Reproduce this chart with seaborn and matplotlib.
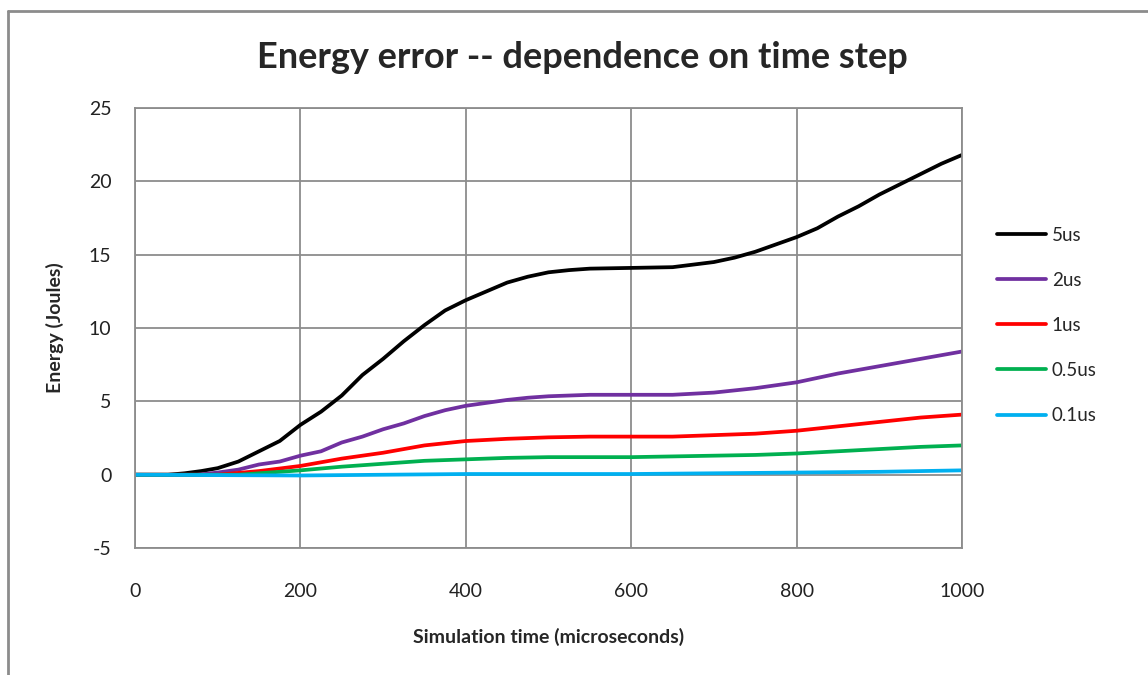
import pandas as pd
import numpy as np
import matplotlib
matplotlib.use('Agg')
import matplotlib.pyplot as plt
import seaborn as sns
from matplotlib.lines import Line2D

# data
t_5us = [0, 40, 60, 80, 100, 125, 150, 175, 200, 225, 250, 275, 300, 325, 350, 375, 400,
         425, 450, 475, 500, 525, 550, 600, 650, 700, 725, 750, 775, 800, 825, 850, 875,
         900, 925, 950, 975, 1000]
e_5us = [0, 0, 0.1, 0.25, 0.45, 0.9, 1.6, 2.3, 3.4, 4.3, 5.4, 6.8, 7.9, 9.1, 10.2, 11.2,
         11.9, 12.5, 13.1, 13.5, 13.8, 13.95, 14.05, 14.1, 14.15, 14.5, 14.8, 15.2, 15.7,
         16.2, 16.8, 17.6, 18.3, 19.1, 19.8, 20.5, 21.2, 21.8]

t_2us = [0, 75, 100, 125, 150, 175, 200, 225, 250, 275, 300, 325, 350, 375, 400, 425,
         450, 475, 500, 550, 600, 650, 700, 750, 800, 850, 900, 950, 1000]
e_2us = [0, 0, 0.15, 0.35, 0.7, 0.9, 1.3, 1.6, 2.2, 2.6, 3.1, 3.5, 4.0, 4.4, 4.7, 4.9,
         5.1, 5.25, 5.35, 5.45, 5.45, 5.45, 5.6, 5.9, 6.3, 6.9, 7.4, 7.9, 8.4]

t_1us = [0, 100, 150, 200, 250, 300, 350, 400, 450, 500, 550, 600, 650, 700, 750, 800,
         850, 900, 950, 1000]
e_1us = [0, 0, 0.25, 0.6, 1.1, 1.5, 2.0, 2.3, 2.45, 2.55, 2.6, 2.6, 2.6, 2.7, 2.8, 3.0,
         3.3, 3.6, 3.9, 4.1]

t_05us = [0, 125, 150, 200, 250, 300, 350, 400, 450, 500, 600, 650, 700, 750, 800, 850,
          900, 950, 1000]
e_05us = [0, 0, 0.1, 0.3, 0.55, 0.75, 0.95, 1.05, 1.15, 1.2, 1.2, 1.25, 1.3, 1.35, 1.45,
          1.6, 1.75, 1.9, 2.0]

t_01us = [0, 200, 400, 600, 700, 800, 900, 1000]
e_01us = [0, -0.05, 0.05, 0.05, 0.1, 0.15, 0.2, 0.3]

labels = ["5us", "2us", "1us", "0.5us", "0.1us"]
colors = ["#000000", "#7030A0", "#FF0000", "#00B050", "#00B0F0"]

frames = []
for lab, t, e in zip(labels, [t_5us, t_2us, t_1us, t_05us, t_01us],
                     [e_5us, e_2us, e_1us, e_05us, e_01us]):
    frames.append(pd.DataFrame({"time": t, "energy": e, "step": lab}))
df = pd.concat(frames, ignore_index=True)

sns.set_style("white")
plt.rcParams['font.family'] = ['Lato', 'DejaVu Sans']
plt.rcParams['axes.unicode_minus'] = False

fig = plt.figure(figsize=(11.48, 6.75), dpi=100)
ax = fig.add_axes([0.1176, 0.188, 0.7204, 0.652])

sns.lineplot(data=df, x="time", y="energy", hue="step", hue_order=labels,
             palette=dict(zip(labels, colors)), linewidth=2.7, ax=ax, legend=False,
             sort=False)

ax.set_xlim(0, 1000)
ax.set_ylim(-5, 25)
ax.set_xticks([0, 200, 400, 600, 800, 1000])
ax.set_yticks([-5, 0, 5, 10, 15, 20, 25])
ax.grid(True, color="#8c8c8c", linewidth=1.3)
ax.set_axisbelow(True)
for s in ax.spines.values():
    s.set_color("#8c8c8c")
    s.set_linewidth(1.3)
ax.tick_params(axis="both", direction="out", length=5, width=1.3, color="#8c8c8c",
               labelsize=14, labelcolor="#222222")
ax.tick_params(axis="x", pad=20)
ax.tick_params(axis="y", pad=12)

ax.set_xlabel("Simulation time (microseconds)", fontsize=14, fontweight="bold", labelpad=20)
ax.set_ylabel("Energy (Joules)", fontsize=14, fontweight="bold", labelpad=18)
fig.text(0.507, 0.915, "Energy error -- dependence on time step", ha="center", va="center",
         fontsize=26, fontweight="bold")

handles = [Line2D([0], [0], color=c, linewidth=2.7) for c in colors]
leg = fig.legend(handles, labels, loc="center left", bbox_to_anchor=(0.854, 0.518),
                 frameon=False, fontsize=13.5, handlelength=2.6, handletextpad=0.3,
                 labelspacing=1.5)

# outer chart frame (top and left edges visible in the reference)
fig.add_artist(Line2D([0.007, 1.0], [0.984, 0.984], color="#8c8c8c", linewidth=2,
                      transform=fig.transFigure))
fig.add_artist(Line2D([0.007, 0.007], [0.0, 0.984], color="#8c8c8c", linewidth=2,
                      transform=fig.transFigure))

fig.savefig("out.png", dpi=100)
